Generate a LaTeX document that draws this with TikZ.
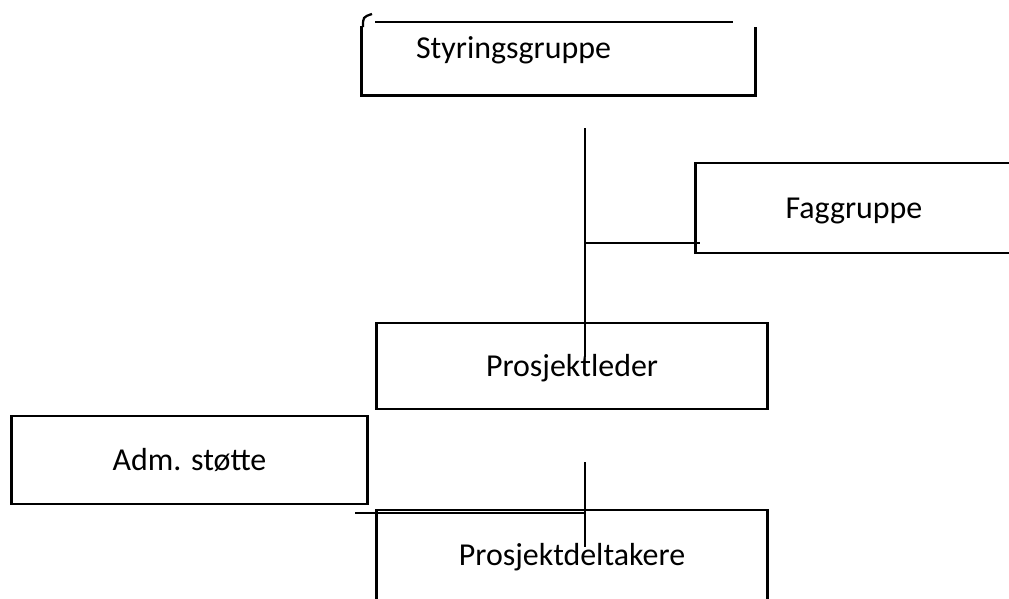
\documentclass[tikz,border=0pt]{standalone}
\usepackage{fontspec}
\setmainfont{Carlito}
\tikzset{
  boks/.style={draw, line width=2.1pt, inner sep=0pt, text height=16pt, text depth=1pt, font=\fontsize{22.7}{26}\selectfont},
  tekst/.style={inner sep=0pt, font=\fontsize{22.7}{26}\selectfont},
  linje/.style={line width=1.4pt}
}
\begin{document}
\begin{tikzpicture}[x=0.025cm,y=-0.025cm]
\useasboundingbox (0,0) rectangle (1009,599);
\clip (0,0) rectangle (1009,599);

%draw boxes
\node[boks, draw=none, minimum width=9.775cm, minimum height=1.775cm] (styr) at (558.5,58.5) {};
\node[tekst, anchor=base] (styrtekst) at (513.5,58) {Styringsgruppe};
\node[boks, minimum width=7.9cm, minimum height=2.25cm] (fag) at (854,208) {Faggruppe};
\node[boks, minimum width=9.75cm, minimum height=2.15cm] (leder) at (572,366) {Prosjektleder};
\node[boks, minimum width=8.875cm, minimum height=2.2cm] (adm) at (189.5,460) {Adm. støtte};
\node[boks, minimum width=9.75cm, minimum height=2.25cm] (deltakere) at (572,555) {Prosjektdeltakere};

%draw open box round Styringsgruppe
\draw[line width=2.1pt] ([yshift=-0.1cm]styr.north west) -- (styr.south west) -- (styr.south east) -- ([yshift=-0.125cm]styr.north east);
\draw[line width=2.1pt] (375,22) -- (733,22);
\draw[line width=1.6pt] (363,27) .. controls (363,17) .. (372,14);

%draw connectors
\coordinate (topp) at (585,128);
\coordinate (gren) at (585,243);
\coordinate (fagende) at (700,243);
\coordinate (lederende) at (585,357);
\coordinate (nedtopp) at (585,462);
\coordinate (nedende) at (585,547);
\coordinate (admende) at (355,513);
\coordinate (admgren) at (585,513);

\draw[linje] (topp) -- (lederende);
\draw[linje] (gren) -- (fagende);
\draw[linje] (nedtopp) -- (nedende);
\draw[linje] (admende) -- (admgren);

\end{tikzpicture}
\end{document}
